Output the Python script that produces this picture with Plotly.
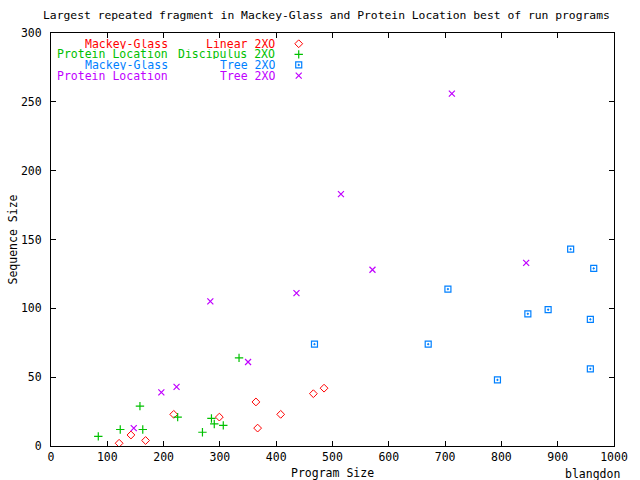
import plotly.graph_objects as go

# values (Program Size, Sequence Size)
mg_linear_x = [121, 142, 168, 218, 299, 364, 367, 408, 466, 485]
mg_linear_y = [2, 8, 4, 23, 21, 32, 13, 23, 38, 42]
pl_disc_x = [84, 123, 158, 163, 225, 269, 285, 290, 306, 334]
pl_disc_y = [7, 12, 29, 12, 21, 10, 20, 16, 15, 64]
mg_tree_x = [468, 670, 705, 793, 847, 883, 923, 958, 958, 964]
mg_tree_y = [74, 74, 114, 48, 96, 99, 143, 92, 56, 129]
pl_tree_x = [147, 196, 223, 283, 350, 436, 515, 571, 712, 844]
pl_tree_y = [13, 39, 43, 105, 61, 111, 183, 128, 256, 133]

problems = ["Mackey-Glass", "Protein Location", "Mackey-Glass", "Protein Location"]
systems = ["Linear", "Discipulus", "Tree", "Tree"]
xs = [mg_linear_x, pl_disc_x, mg_tree_x, pl_tree_x]
ys = [mg_linear_y, pl_disc_y, mg_tree_y, pl_tree_y]

# gnuplot-ish styles
colors = ["#ff0000", "#00c000", "#0080ff", "#c000ff"]
symbols = ["diamond-open", "cross-thin", "square-open-dot", "x-thin"]
sizes = [6, 6, 6, 6]
widths = [1, 1.2, 1.2, 1.2]

FONT = "DejaVu Sans Mono"
FS = 11.5

fig = go.Figure()
for i in range(4):
    fig.add_trace(go.Scatter(
        x=xs[i], y=ys[i], mode="markers", showlegend=False,
        marker=dict(symbol=symbols[i], size=sizes[i], color=colors[i],
                    line=dict(color=colors[i], width=widths[i])),
    ))

# gnuplot style key: two right justified columns of text, sample to the right
key_col1_x = 0.209
key_col2_x = 0.4
key_sample_x = 0.44
key_top = 0.974
key_step = 0.0257
for i in range(4):
    row_y = key_top - i * key_step
    # rows sit closer than plotly's line box, so keep the boxes tight
    fig.add_annotation(x=key_col1_x, y=row_y, xref="x2", yref="y2", text=problems[i],
                       showarrow=False, xanchor="right", yanchor="middle",
                       borderpad=0, height=10,
                       font=dict(family=FONT, size=FS, color=colors[i]))
    fig.add_annotation(x=key_col2_x, y=row_y, xref="x2", yref="y2", text=systems[i] + " 2XO",
                       showarrow=False, xanchor="right", yanchor="middle",
                       borderpad=0, height=10,
                       font=dict(family=FONT, size=FS, color=colors[i]))
    fig.add_trace(go.Scatter(
        x=[key_sample_x], y=[row_y], xaxis="x2", yaxis="y2", mode="markers",
        showlegend=False, hoverinfo="skip",
        marker=dict(symbol=symbols[i], size=sizes[i], color=colors[i],
                    line=dict(color=colors[i], width=widths[i])),
    ))

axis_common = dict(showgrid=False, zeroline=False, showline=True, linecolor="black",
                   linewidth=1, mirror="ticks", ticks="inside", ticklen=5,
                   tickcolor="black", tickfont=dict(family=FONT, size=FS, color="black"))

fig.update_layout(
    width=640, height=480,
    margin=dict(l=51, r=20, t=33, b=34),
    paper_bgcolor="white", plot_bgcolor="white",
    xaxis=dict(range=[0, 1000], dtick=100, **axis_common),
    yaxis=dict(range=[0, 300], dtick=50, ticklabelstandoff=6, **axis_common),
    xaxis2=dict(range=[0, 1], overlaying="x", visible=False),
    yaxis2=dict(range=[0, 1], overlaying="y", visible=False),
    showlegend=False,
)

fig.add_annotation(x=0.489, y=1, xref="paper", yref="paper", yshift=18,
                   text="Largest repeated fragment in Mackey-Glass and Protein Location best of run programs",
                   showarrow=False, xanchor="center", yanchor="middle",
                   font=dict(family=FONT, size=11.35, color="black"))
fig.add_annotation(x=0.5, y=0, xref="paper", yref="paper", yshift=-27,
                   text="Program Size", showarrow=False, xanchor="center", yanchor="middle",
                   font=dict(family=FONT, size=FS, color="black"))
fig.add_annotation(x=0, y=0.5, xref="paper", yref="paper", xshift=-39,
                   text="Sequence Size", textangle=-90, showarrow=False,
                   xanchor="center", yanchor="middle",
                   font=dict(family=FONT, size=FS, color="black"))
fig.add_annotation(x=1, y=0, xref="paper", yref="paper", yshift=-28, xshift=8,
                   text="blangdon", showarrow=False, xanchor="right", yanchor="middle",
                   font=dict(family=FONT, size=FS, color="black"))

# the page body has a default 8px margin; drop it so the figure sits at 0,0
fig.write_html("out.html", config={"displayModeBar": False},
               post_script="document.body.style.margin='0px';")
